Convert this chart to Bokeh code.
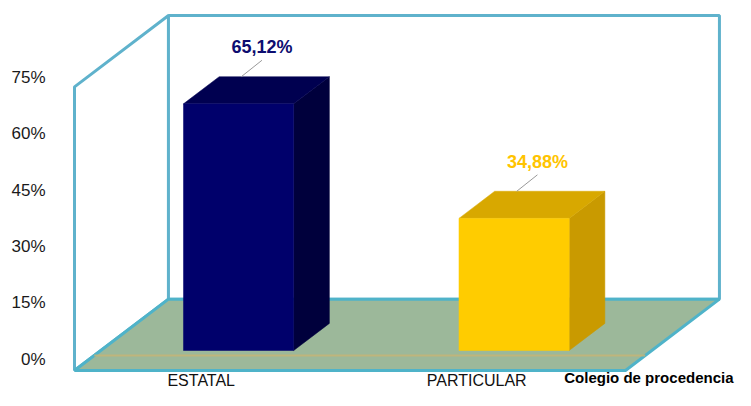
from bokeh.plotting import figure
from bokeh.models import Range1d, LinearAxis, FixedTicker, ColumnDataSource
from bokeh.core.properties import value
from bokeh.embed import file_html
from bokeh.resources import INLINE

# ---- data ----
categories = ["ESTATAL", "PARTICULAR"]
percentages = [65.12, 34.88]
value_labels = ["65,12%", "34,88%"]
tick_values = [0, 15, 30, 45, 60, 75]
tick_labels = ["0%", "15%", "30%", "45%", "60%", "75%"]
axis_title = "Colegio de procedencia"

front_colors = ["#00006b", "#ffcc00"]
side_colors = ["#00003c", "#c99a00"]
top_colors = ["#000050", "#d8a800"]
label_colors = ["#0d0d70", "#ffc400"]

# ---- 3D box style constants (data units) ----
DEPTH_X = 0.341      # horizontal shift of back plane (category units)
DEPTH_Y = 18.84      # vertical shift of back plane (percent units)
FLOOR = -5.28        # floor level at the front plane
WALL_TOP = 69.6      # wall top at the front plane
BAR_HALF = 0.2       # half width of a bar (category units)
BAR_DEPTH = 0.38     # bar depth as fraction of box depth
Z0 = -FLOOR / DEPTH_Y
N = len(categories)

p = figure(width=735, height=390,
           x_range=Range1d(-0.0799, 2.3993), y_range=Range1d(-10.56, 92.40),
           output_backend="svg", toolbar_location=None,
           x_axis_location=None, y_axis_location=None,
           min_border=0, min_border_left=52)
p.outline_line_color = None
p.background_fill_color = "white"
for g in p.grid:
    g.visible = False

# y axis (labels)
p.extra_y_ranges = {"ax": Range1d(-8.36, 95.47)}
yax = LinearAxis(y_range_name="ax", ticker=FixedTicker(ticks=tick_values),
                 major_label_overrides={t: l for t, l in zip(tick_values, tick_labels)})
yax.axis_line_color = None
yax.major_tick_line_color = None
yax.minor_tick_line_color = None
yax.major_tick_out = 0
yax.major_tick_in = 0
yax.major_label_standoff = 7
yax.major_label_text_font = "Liberation Sans"
yax.major_label_text_font_size = "17px"
yax.major_label_text_color = "#1a1a1a"
p.add_layout(yax, "left")

wall_line = "#5fb2cc"
# left wall
p.patch([0, 0, DEPTH_X, DEPTH_X],
        [FLOOR, WALL_TOP, WALL_TOP + DEPTH_Y, FLOOR + DEPTH_Y],
        fill_color="white", line_color=wall_line, line_width=3)
# back wall
p.patch([DEPTH_X, DEPTH_X, N + DEPTH_X, N + DEPTH_X],
        [FLOOR + DEPTH_Y, WALL_TOP + DEPTH_Y, WALL_TOP + DEPTH_Y, FLOOR + DEPTH_Y],
        fill_color="white", line_color=wall_line, line_width=3)
# floor
p.patch([0, DEPTH_X, N + DEPTH_X, N],
        [FLOOR, FLOOR + DEPTH_Y, FLOOR + DEPTH_Y, FLOOR],
        fill_color="#9cb89a", line_color="#4fb3c9", line_width=3)
# floor inner band line
zb = 0.21
p.segment(x0=[zb * DEPTH_X], y0=[FLOOR + zb * DEPTH_Y],
          x1=[N + zb * DEPTH_X], y1=[FLOOR + zb * DEPTH_Y],
          line_color="#c8b474", line_width=2, line_alpha=0.8)

# bars
bdx = BAR_DEPTH * DEPTH_X
bdy = BAR_DEPTH * DEPTH_Y
fx, fy, sx, sy, tx, ty = [], [], [], [], [], []
lx, ly, l0x, l0y, l1x, l1y = [], [], [], [], [], []
for i, v in enumerate(percentages):
    xc = i + 0.5
    xl = xc - BAR_HALF + Z0 * DEPTH_X
    xr = xc + BAR_HALF + Z0 * DEPTH_X
    fx.append([xl, xl, xr, xr]); fy.append([0, v, v, 0])
    sx.append([xr, xr, xr + bdx, xr + bdx]); sy.append([0, v, v + bdy, bdy])
    tx.append([xl, xl + bdx, xr + bdx, xr]); ty.append([v, v + bdy, v + bdy, v])
    cx = xc + (Z0 + BAR_DEPTH / 2) * DEPTH_X + 0.02
    lx.append(cx); ly.append(v + 15.0)
    l0x.append(cx); l0y.append(v + 11.5)
    l1x.append(cx - 0.075); l1y.append(v + bdy)

p.patches(sx, sy, fill_color=side_colors, line_color=side_colors, line_width=0.5)
p.patches(tx, ty, fill_color=top_colors, line_color=top_colors, line_width=0.5)
p.patches(fx, fy, fill_color=front_colors, line_color=front_colors, line_width=0.5)

p.segment(x0=l0x, y0=l0y, x1=l1x, y1=l1y, line_color="#9a9a9a", line_width=1)
src = ColumnDataSource(dict(x=lx, y=ly, t=value_labels, c=label_colors))
p.text(x="x", y="y", text="t", text_color="c", source=src,
       text_font=value("Liberation Sans"), text_font_size="18px",
       text_font_style="bold", text_align="center", text_baseline="middle")

# category labels (front plane)
cat_x = [i + 0.46 for i in range(N)]
cat_y = [-7.92] * N
p.text(x=cat_x, y=cat_y, text=categories, text_color="#111111",
       text_font=value("Liberation Sans"), text_font_size="16px",
       text_align="center", text_baseline="middle")

# axis title
p.text(x=[2.3920], y=[-7.13], text=[axis_title], text_color="#000000",
       text_font=value("Liberation Sans"), text_font_size="15px",
       text_font_style="bold", text_align="right", text_baseline="middle")

open("out.html", "w").write(file_html(p, INLINE))
